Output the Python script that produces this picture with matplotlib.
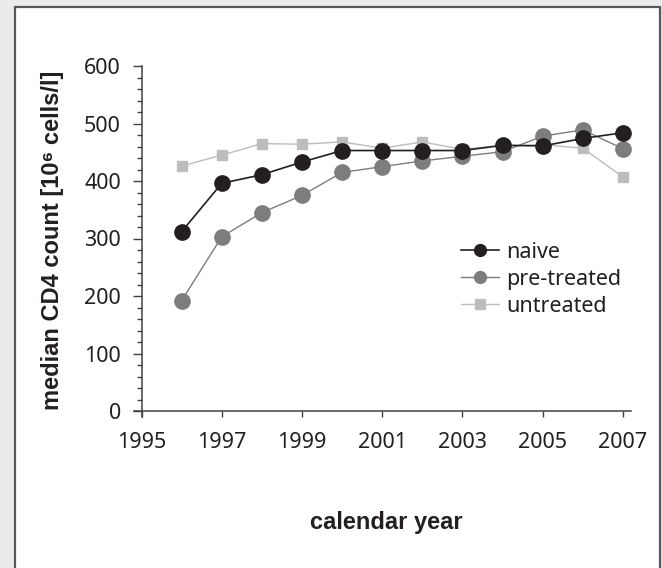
import matplotlib
matplotlib.use("Agg")
import matplotlib.pyplot as plt
from matplotlib.patches import Rectangle
from matplotlib.lines import Line2D
from matplotlib.ticker import MultipleLocator

years = [1996, 1997, 1998, 1999, 2000, 2001, 2002, 2003, 2004, 2005, 2006, 2007]
naive = [312, 396, 411, 433, 453, 453, 453, 453, 462, 461, 474, 484]
pre_treated = [192, 303, 345, 375, 415, 425, 435, 443, 451, 478, 489, 456]
untreated = [426, 445, 465, 464, 468, 457, 468, 455, 462, 463, 457, 407]
xticks = [1995, 1997, 1999, 2001, 2003, 2005, 2007]
yticks = [0, 100, 200, 300, 400, 500, 600]
series_names = ["naive", "pre-treated", "untreated"]

W, H = 662, 568
fig = plt.figure(figsize=(W / 100, H / 100), dpi=100, facecolor="#ebebed")
fig.patches.append(Rectangle((14.5 / W, -0.02), (660 - 14.5) / W, (H - 6.5) / H + 0.02,
                             transform=fig.transFigure, facecolor="white",
                             edgecolor="#58585a", linewidth=1.6, zorder=-5))

ax = fig.add_axes([133.5 / W, (H - 416.75) / H, (631 - 133.5) / W, (416.75 - 66) / H])
ax.set_facecolor("none")
ax.set_zorder(2)

styles = {
    "naive": dict(color="#231f20", lw=1.2, marker="o"),
    "pre-treated": dict(color="#7d7d80", lw=1.0, marker="o"),
    "untreated": dict(color="#bdbdc0", lw=1.0, marker="s"),
}
sizes = {"o": 11, "s": 7.2}
leg_sizes = {"o": 8.5, "s": 7.2}
data = {"naive": naive, "pre-treated": pre_treated, "untreated": untreated}
zorders = {"naive": 5, "pre-treated": 4, "untreated": 3}

for name in ["untreated", "pre-treated", "naive"]:
    st = styles[name]
    ax.plot(years, data[name], color=st["color"], lw=st["lw"], marker=st["marker"],
            ms=sizes[st["marker"]], mec=st["color"], mfc=st["color"], zorder=zorders[name])

ax.set_xlim(1994.8, 2007.2)
ax.set_ylim(-10, 600)
for s in ["top", "right"]:
    ax.spines[s].set_visible(False)
ax.spines["left"].set_position(("data", 1995))
ax.spines["bottom"].set_position(("data", 0))
for s in ["left", "bottom"]:
    ax.spines[s].set_color("#414142")
    ax.spines[s].set_linewidth(1.1)

ax.set_xticks(xticks)
ax.set_yticks(yticks)
ax.yaxis.set_minor_locator(MultipleLocator(20))
tickfont = {"family": ["Noto Sans", "DejaVu Sans"], "size": 15.5}
ax.set_xticklabels([str(t) for t in xticks], fontdict=tickfont, color="#231f20")
ax.set_yticklabels([str(t) for t in yticks], fontdict=tickfont, color="#231f20")
ax.tick_params(axis="y", which="major", length=6.8, width=1.0, color="#414142", pad=8)
ax.tick_params(axis="y", which="minor", length=3.6, width=1.0, color="#414142")
ax.tick_params(axis="x", which="major", length=4.3, width=1.0, color="#414142", pad=11)

labelfont = dict(family=["Liberation Sans", "DejaVu Sans"], weight="bold", size=17,
                 color="#231f20")
fig.text(386 / W, 1 - 523 / H, "calendar year", ha="center", va="center", **labelfont)
fig.text(53 / W, 1 - 240 / H, "median CD4 count [10\u2076 cells/l]", ha="center",
         va="center", rotation=90, **labelfont)

handles = []
for name in series_names:
    st = styles[name]
    handles.append(Line2D([], [], color=st["color"], lw=st["lw"], marker=st["marker"],
                          ms=leg_sizes[st["marker"]], mec=st["color"], mfc=st["color"]))
leg = ax.legend(handles, series_names, loc="upper left",
                bbox_to_anchor=(461 / W, 1 - 242 / H), bbox_transform=fig.transFigure,
                frameon=False, prop={"family": ["Noto Sans", "DejaVu Sans"], "size": 15.5},
                handlelength=1.75, handletextpad=0.35, labelspacing=0.27, borderpad=0,
                borderaxespad=0)
for t in leg.get_texts():
    t.set_color("#231f20")

fig.savefig("out.png", dpi=100, facecolor=fig.get_facecolor())
